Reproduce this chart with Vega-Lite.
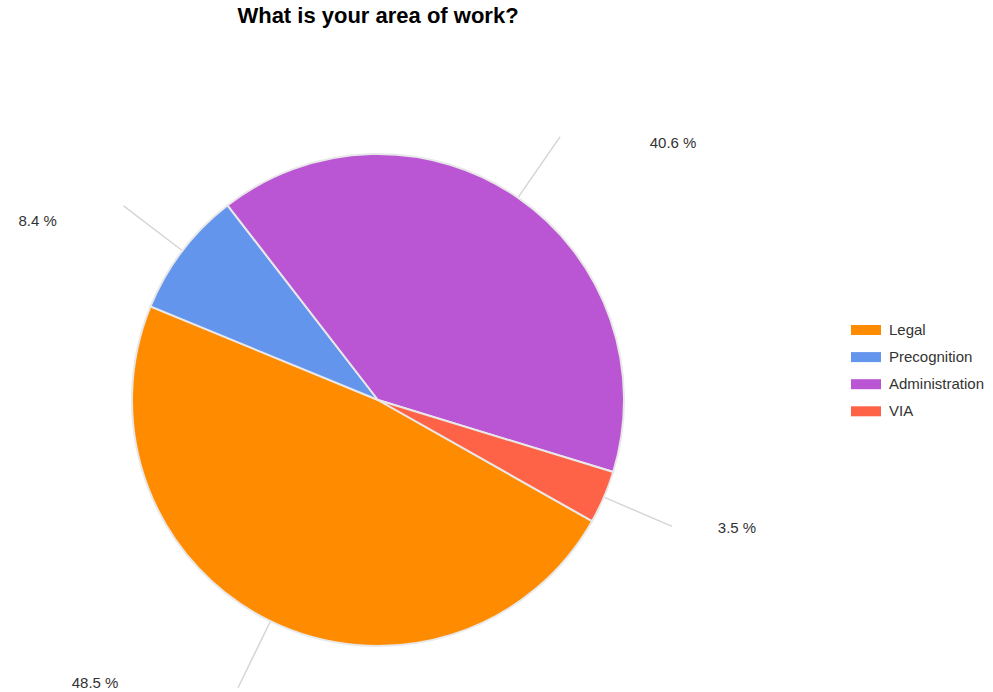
{
  "$schema": "https://vega.github.io/schema/vega-lite/v6.json",
  "width": 756,
  "height": 584,
  "autosize": {"type": "none"},
  "padding": {"left": 0, "top": 108, "right": 237, "bottom": 0},
  "background": "white",
  "title": {
    "text": "What is your area of work?",
    "font": "Liberation Sans",
    "fontSize": 22,
    "fontWeight": "bold",
    "color": "#000000",
    "anchor": "middle",
    "frame": "group",
    "baseline": "alphabetic",
    "offset": 63
  },
  "data": {
    "values": [
      {"area": "Legal", "value": 48.5, "ord": 1},
      {"area": "Precognition", "value": 8.4, "ord": 2},
      {"area": "Administration", "value": 40.6, "ord": 3},
      {"area": "VIA", "value": 3.5, "ord": 4}
    ]
  },
  "transform": [{"calculate": "format(datum.value, '.1f') + ' %'", "as": "label"}],
  "encoding": {
    "theta": {"field": "value", "type": "quantitative", "stack": true, "scale": {"range": [2.0857, 8.3689]}},
    "order": {"field": "ord", "type": "quantitative", "sort": "ascending"}
  },
  "layer": [
    {
      "mark": {"type": "arc", "innerRadius": 246, "outerRadius": 320, "padAngle": 3, "fill": "transparent", "stroke": "#d6d6d6", "strokeWidth": 1.5},
      "encoding": {}
    },
    {
      "mark": {"type": "arc", "outerRadius": 246, "stroke": "#e8e8e8", "strokeWidth": 2},
      "encoding": {
        "color": {
          "field": "area",
          "type": "nominal",
          "scale": {
            "domain": ["Legal", "Precognition", "Administration", "VIA"],
            "range": ["#FF8C00", "#6495ED", "#BA55D3", "#FF6347"]
          },
          "legend": {
            "title": null,
            "orient": "none",
            "legendX": 856,
            "legendY": 212,
            "padding": 0,
            "symbolType": "M-1.5,-0.5H1.5V0.5H-1.5Z",
            "symbolSize": 400,
            "symbolStrokeWidth": 0,
            "symbolOpacity": 1,
            "labelOffset": 13,
            "rowPadding": 9.1,
            "labelFont": "Liberation Sans",
            "labelFontSize": 15,
            "labelColor": "#333333"
          }
        }
      }
    },
    {
      "mark": {"type": "text", "radius": 320, "dx": -143, "dy": -5, "font": "Liberation Sans", "fontSize": 15, "fill": "#333333"},
      "encoding": {"text": {"condition": {"test": "datum.area === 'Legal'", "field": "label", "type": "nominal"}, "value": ""}}
    },
    {
      "mark": {"type": "text", "radius": 320, "dx": -86, "dy": 15, "font": "Liberation Sans", "fontSize": 15, "fill": "#333333"},
      "encoding": {"text": {"condition": {"test": "datum.area === 'Precognition'", "field": "label", "type": "nominal"}, "value": ""}}
    },
    {
      "mark": {"type": "text", "radius": 320, "dx": 113, "dy": 6, "font": "Liberation Sans", "fontSize": 15, "fill": "#333333"},
      "encoding": {"text": {"condition": {"test": "datum.area === 'Administration'", "field": "label", "type": "nominal"}, "value": ""}}
    },
    {
      "mark": {"type": "text", "radius": 320, "dx": 65, "dy": 2, "font": "Liberation Sans", "fontSize": 15, "fill": "#333333"},
      "encoding": {"text": {"condition": {"test": "datum.area === 'VIA'", "field": "label", "type": "nominal"}, "value": ""}}
    }
  ]
}
